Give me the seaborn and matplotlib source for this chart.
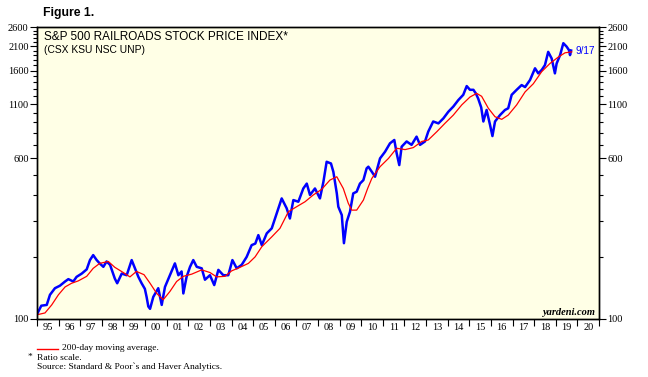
import matplotlib
matplotlib.use("Agg")
import matplotlib.pyplot as plt
import seaborn as sns
import numpy as np
import pandas as pd
from matplotlib.ticker import FixedLocator, NullFormatter, FixedFormatter
from matplotlib.lines import Line2D

# ---------------- data ----------------
price_x = [1995.03, 1995.2, 1995.45, 1995.6, 1995.83, 1996.06, 1996.3, 1996.45, 1996.68, 1996.83,
           1997.07, 1997.3, 1997.45, 1997.6, 1997.76, 1997.9, 1998.07, 1998.22, 1998.38, 1998.6,
           1998.71, 1998.92, 1999.15, 1999.38, 1999.53, 1999.69, 1999.84, 1999.99, 2000.07, 2000.15,
           2000.23, 2000.38, 2000.61, 2000.77, 2000.92, 2001.15, 2001.38, 2001.54, 2001.69, 2001.77,
           2001.92, 2002.08, 2002.23, 2002.39, 2002.62, 2002.77, 2003.0, 2003.2, 2003.39, 2003.62,
           2003.85, 2004.04, 2004.24, 2004.47, 2004.7, 2004.93, 2005.1, 2005.24, 2005.4, 2005.63,
           2005.86, 2006.09, 2006.32, 2006.55, 2006.7, 2006.86, 2007.09, 2007.32, 2007.48, 2007.63,
           2007.86, 2008.09, 2008.25, 2008.4, 2008.6, 2008.71, 2008.87, 2008.94, 2009.1, 2009.2,
           2009.33, 2009.48, 2009.63, 2009.79, 2009.94, 2010.1, 2010.25, 2010.33, 2010.49, 2010.64,
           2010.87, 2011.1, 2011.33, 2011.53, 2011.64, 2011.76, 2011.87, 2012.1, 2012.33, 2012.56,
           2012.72, 2012.95, 2013.1, 2013.33, 2013.57, 2013.8, 2014.03, 2014.26, 2014.49, 2014.72,
           2014.88, 2015.03, 2015.19, 2015.3, 2015.41, 2015.55, 2015.65, 2015.8, 2015.96, 2016.07,
           2016.19, 2016.42, 2016.65, 2016.8, 2016.96, 2017.19, 2017.42, 2017.58, 2017.81, 2018.04,
           2018.19, 2018.35, 2018.5, 2018.65, 2018.81, 2018.96, 2019.04, 2019.2, 2019.35, 2019.5,
           2019.61, 2019.66, 2019.71]
price_y = [107, 116, 117, 131, 141, 145, 152, 156, 152, 160,
           166, 174, 193, 204, 193, 186, 179, 190, 183, 157,
           149, 166, 163, 193, 176, 160, 149, 140, 128, 115,
           112, 128, 141, 117, 143, 163, 186, 163, 170, 133,
           160, 179, 193, 179, 176, 155, 163, 146, 173, 163,
           163, 193, 176, 183, 200, 228, 232, 255, 228, 260,
           275, 325, 384, 344, 307, 377, 370, 429, 453, 399,
           429, 384, 462, 578, 567, 517, 406, 350, 319, 233,
           296, 331, 406, 414, 453, 471, 537, 547, 517, 489,
           600, 646, 710, 737, 635, 557, 684, 725, 698, 765,
           698, 725, 809, 906, 887, 938, 1010, 1070, 1150, 1220,
           1345, 1290, 1290, 1240, 1170, 1060, 906, 1030, 871, 770,
           906, 973, 1030, 1050, 1220, 1290, 1360, 1330, 1440, 1640,
           1550, 1610, 1700, 1970, 1830, 1550, 1730, 1900, 2170, 2090,
           2010, 1900, 2000]

ma_x = [1995.03, 1995.37, 1995.68, 1995.99, 1996.3, 1996.6, 1996.91, 1997.3, 1997.6, 1997.9,
        1998.3, 1998.6, 1998.99, 1999.3, 1999.6, 1999.95, 2000.23, 2000.54, 2000.84, 2001.15,
        2001.46, 2001.77, 2002.16, 2002.62, 2003.0, 2003.31, 2003.7, 2004.0, 2004.39, 2004.78,
        2005.09, 2005.4, 2005.86, 2006.24, 2006.63, 2007.01, 2007.4, 2007.78, 2008.17, 2008.55,
        2008.87, 2009.17, 2009.4, 2009.56, 2009.79, 2010.1, 2010.3, 2010.49, 2010.87, 2011.26,
        2011.64, 2012.03, 2012.41, 2012.8, 2013.1, 2013.5, 2013.87, 2014.26, 2014.65, 2015.03,
        2015.34, 2015.57, 2015.88, 2016.19, 2016.5, 2016.8, 2017.19, 2017.58, 2017.96, 2018.35,
        2018.73, 2019.12, 2019.43, 2019.74]
ma_y = [105, 107, 117, 131, 143, 149, 153, 161, 176, 186,
        190, 178, 168, 160, 170, 164, 149, 133, 124, 136,
        152, 161, 165, 173, 168, 160, 161, 171, 178, 186,
        200, 224, 250, 275, 331, 350, 370, 399, 425, 471,
        489, 429, 364, 337, 337, 377, 430, 480, 547, 600,
        672, 662, 677, 725, 737, 809, 887, 973, 1090, 1190,
        1240, 1200, 1050, 955, 928, 973, 1090, 1260, 1380, 1580,
        1730, 1860, 1950, 1970]

year_labels = ["95", "96", "97", "98", "99", "00", "01", "02", "03", "04", "05", "06", "07",
               "08", "09", "10", "11", "12", "13", "14", "15", "16", "17", "18", "19", "20"]
y_major = [100, 600, 1100, 1600, 2100, 2600]
y_labels = ["100", "600", "1100", "1600", "2100", "2600"]
end_label = "9/17"

# ---------------- figure ----------------
W, H = 648, 377
fig = plt.figure(figsize=(W / 100, H / 100), dpi=100)
fig.patch.set_facecolor("white")
L, R, T, B = 37, 599, 27, 319
ax = fig.add_axes([L / W, 1 - B / H, (R - L) / W, (B - T) / H])
ax.set_facecolor("#ffffe6")

df_p = pd.DataFrame({"x": price_x, "y": price_y})
df_m = pd.DataFrame({"x": ma_x, "y": ma_y})
sns.lineplot(data=df_p, x="x", y="y", ax=ax, color="#0000ff", lw=1.8, estimator=None, sort=False)
sns.lineplot(data=df_m, x="x", y="y", ax=ax, color="#ff0000", lw=0.9, estimator=None, sort=False)

ax.set_yscale("log")
ax.set_ylim(100, 2600)
ax.set_xlim(1995, 2021)
ax.set_xlabel("")
ax.set_ylabel("")

minor_y = [v for v in range(200, 2600, 100) if v not in y_major]
serif = "Liberation Serif"

def style_y(a):
    a.yaxis.set_major_locator(FixedLocator(y_major))
    a.yaxis.set_major_formatter(FixedFormatter(y_labels))
    a.yaxis.set_minor_locator(FixedLocator(minor_y))
    a.yaxis.set_minor_formatter(NullFormatter())
    a.tick_params(axis="y", which="major", direction="out", length=5, width=0.8, pad=1,
                  labelsize=7.5, labelfontfamily=serif)
    a.tick_params(axis="y", which="minor", direction="out", length=3, width=0.8)

style_y(ax)
ax2 = ax.twinx()
ax2.set_yscale("log")
ax2.set_ylim(100, 2600)
style_y(ax2)
for a in (ax, ax2):
    for s in a.spines.values():
        s.set_linewidth(1.0)
        s.set_color("black")

years = np.arange(1995, 2022)
ax.xaxis.set_major_locator(FixedLocator(years))
ax.xaxis.set_major_formatter(NullFormatter())
ax.xaxis.set_minor_locator(FixedLocator(years[:-1] + 0.5))
ax.xaxis.set_minor_formatter(FixedFormatter(year_labels))
ax.tick_params(axis="x", which="major", direction="out", length=5, width=0.8)
ax.tick_params(axis="x", which="minor", length=0, pad=3, labelsize=7.5, labelfontfamily=serif)

# titles
fig.text(43 / W, 1 - 13 / H, "Figure 1.", fontsize=8.8, fontweight="bold",
         family="Liberation Sans", va="center", ha="left")
ax.text(7 / (R - L), 1 - 10 / (B - T), "S&P 500 RAILROADS STOCK PRICE INDEX*",
        transform=ax.transAxes, fontsize=8.5, family="Liberation Sans", va="center", ha="left")
ax.text(7 / (R - L), 1 - 23 / (B - T), "(CSX KSU NSC UNP)",
        transform=ax.transAxes, fontsize=7.4, family="Liberation Sans", va="center", ha="left")

ax.annotate(end_label, xy=(price_x[-1], price_y[-1]), xytext=(3, -0.5), textcoords="offset points",
            color="#0000ff", fontsize=7.2, family="Liberation Sans", va="center", ha="left")

ax.text(0.993, 0.022, "yardeni.com", transform=ax.transAxes, ha="right", va="center",
        fontsize=7.5, family=serif, style="italic", fontweight="bold")

# footnotes
fs = 6.8
fig.add_artist(Line2D([37 / W, 58 / W], [1 - 349 / H, 1 - 349 / H], color="#ff0000", lw=1.0,
                      transform=fig.transFigure))
fig.text(62 / W, 1 - 348 / H, "200-day moving average.", fontsize=fs, family=serif, va="center")
fig.text(28 / W, 1 - 357 / H, "*", fontsize=fs, family=serif, va="center")
fig.text(37 / W, 1 - 358 / H, "Ratio scale.", fontsize=fs, family=serif, va="center")
fig.text(37 / W, 1 - 367 / H, "Source: Standard & Poor`s and Haver Analytics.", fontsize=fs,
         family=serif, va="center")

fig.savefig("out.png", dpi=100)
